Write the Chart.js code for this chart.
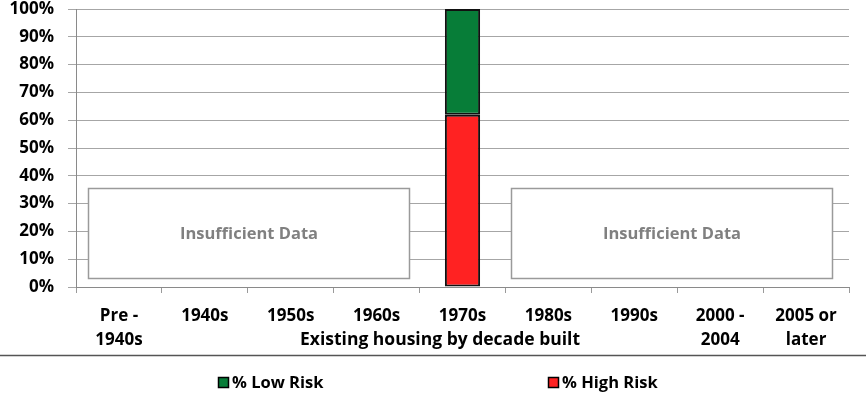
<!DOCTYPE html>
<html>
<head>
<meta charset="utf-8">
<script src="https://cdn.jsdelivr.net/npm/chart.js@4"></script>
<style>
  html, body { margin: 0; padding: 0; background: #fff; }
  #wrap { width: 866px; height: 401px; }
</style>
</head>
<body>
<div id="wrap"><canvas id="plot"></canvas></div>
<script>
// datos
const categorias = [['Pre -', '1940s'], '1940s', '1950s', '1960s', '1970s', '1980s', '1990s', ['2000 -', '2004'], ['2005 or', 'later']];
const altoRiesgo = [null, null, null, null, 62, null, null, null, null];
const bajoRiesgo = [null, null, null, null, 38, null, null, null, null];
const etiquetasY = ['0%', '10%', '20%', '30%', '40%', '50%', '60%', '70%', '80%', '90%', '100%'];
const tituloX = 'Existing housing by decade built';
const textoCaja = 'Insufficient Data';
// cajas "Insufficient Data": rango en categorias y en %
const cajasX = [[-0.36, 3.38], [4.56, 8.30]];
const cajasY = [3.2, 35.7];

const fuente = "'Open Sans', Lato, sans-serif";

let extras = {
  id: 'extras',
  beforeDatasetsDraw(chart) {
    let ctx = chart.ctx
    let x = chart.scales.x
    let y = chart.scales.y
    ctx.save()
    cajasX.forEach(c => {
      let x0 = Math.round(x.getPixelForValue(c[0])) + 0.5
      let x1 = Math.round(x.getPixelForValue(c[1])) + 0.5
      let y0 = Math.round(y.getPixelForValue(cajasY[1])) + 0.5
      let y1 = Math.round(y.getPixelForValue(cajasY[0])) + 0.5
      ctx.fillStyle = '#ffffff'
      ctx.fillRect(x0, y0, x1 - x0, y1 - y0)
      ctx.strokeStyle = '#9a9a9a'
      ctx.lineWidth = 1.5
      ctx.strokeRect(x0, y0, x1 - x0, y1 - y0)
      ctx.fillStyle = '#808080'
      ctx.font = 'bold 16.5px ' + fuente
      ctx.textAlign = 'center'
      ctx.textBaseline = 'middle'
      ctx.fillText(textoCaja, (x0 + x1) / 2, (y0 + y1) / 2 + 1)
    })
    ctx.restore()
  },
  afterDraw(chart) {
    let ctx = chart.ctx
    ctx.save()
    // titulo del eje x
    ctx.fillStyle = '#000'
    ctx.font = 'bold 17.5px ' + fuente
    ctx.textAlign = 'center'
    ctx.textBaseline = 'middle'
    ctx.fillText(tituloX, 440, 340)
    // linea separadora
    ctx.strokeStyle = '#555'
    ctx.lineWidth = 1.5
    ctx.beginPath()
    ctx.moveTo(0, 355.5)
    ctx.lineTo(chart.width, 355.5)
    ctx.stroke()
    // leyenda
    let items = [chart.data.datasets[1], chart.data.datasets[0]]
    let xs = [218, 548]
    ctx.font = 'bold 16.5px ' + fuente
    ctx.textAlign = 'left'
    items.forEach((ds, i) => {
      ctx.fillStyle = ds.backgroundColor
      ctx.fillRect(xs[i] + 0.5, 377.5, 10, 10)
      ctx.strokeStyle = '#000'
      ctx.lineWidth = 1.5
      ctx.strokeRect(xs[i] + 0.5, 377.5, 10, 10)
      ctx.fillStyle = '#000'
      ctx.fillText(ds.label, xs[i] + 14, 383)
    })
    ctx.restore()
  }
}

let config = {
  type: 'bar',
  data: {
    labels: categorias,
    datasets: [
      {
        label: '% High Risk',
        data: altoRiesgo,
        backgroundColor: '#ff2222',
        borderColor: '#111',
        borderWidth: 2,
        borderSkipped: false
      },
      {
        label: '% Low Risk',
        data: bajoRiesgo,
        backgroundColor: '#077d38',
        borderColor: '#111',
        borderWidth: 2,
        borderSkipped: false
      }
    ]
  },
  options: {
    responsive: true,
    maintainAspectRatio: false,
    animation: false,
    barPercentage: 0.41,
    categoryPercentage: 1,
    layout: { padding: { top: 9, right: 17, bottom: 46, left: 0 } },
    plugins: {
      legend: { display: false },
      tooltip: { enabled: false }
    },
    scales: {
      x: {
        stacked: true,
        afterFit: s => { s.height = 68; s.paddingLeft = 0; s.paddingRight = 0 },
        grid: { drawOnChartArea: false, tickLength: 6, color: '#9a9a9a' },
        border: { color: '#8a8a8a' },
        ticks: {
          color: '#000',
          padding: 11,
          maxRotation: 0,
          autoSkip: false,
          font: { family: fuente, size: 17, weight: 'bold', lineHeight: 1.41 }
        }
      },
      y: {
        stacked: true,
        min: 0,
        max: 100,
        afterFit: s => { s.width = 76; s.paddingTop = 0; s.paddingBottom = 0 },
        grid: { color: '#a6a6a6', tickLength: 8 },
        border: { color: '#8a8a8a' },
        ticks: {
          stepSize: 10,
          color: '#000',
          padding: 14,
          callback: (v, i) => etiquetasY[i],
          font: { family: fuente, size: 17, weight: 'bold' }
        }
      }
    }
  },
  plugins: [extras]
}

new Chart(document.getElementById('plot'), config)
</script>
</body>
</html>
